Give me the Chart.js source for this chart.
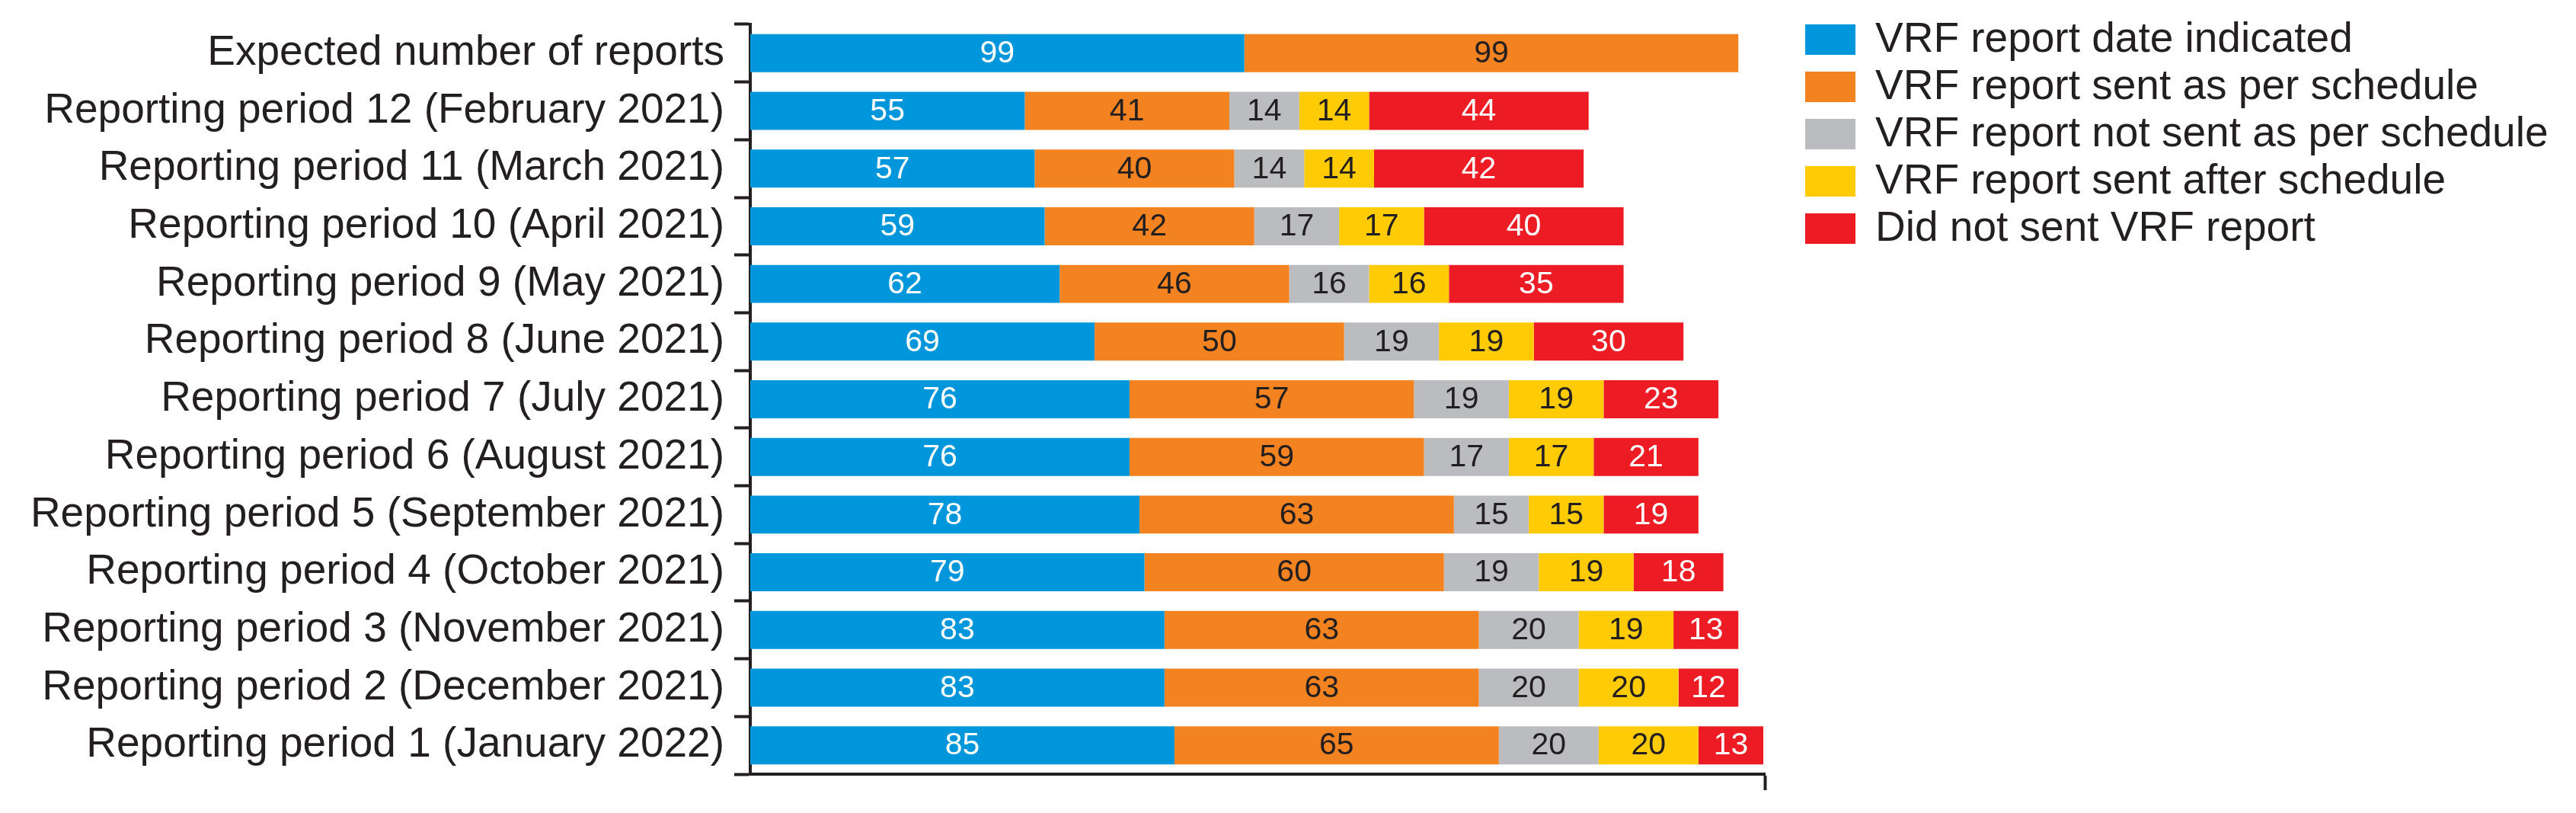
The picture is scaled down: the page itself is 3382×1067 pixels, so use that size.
<!DOCTYPE html>
<html>
<head>
<meta charset="utf-8">
<script src="https://cdn.jsdelivr.net/npm/chart.js@4/dist/chart.umd.min.js"></script>
<style>
html,body{margin:0;padding:0;background:#ffffff;}
#wrap{width:3382px;height:1067px;}
</style>
</head>
<body>
<div id="wrap"><canvas id="c" width="3382" height="1067"></canvas></div>
<script>
// ---- data ----
const categories = [
  "Expected number of reports",
  "Reporting period 12 (February 2021)",
  "Reporting period 11 (March 2021)",
  "Reporting period 10 (April 2021)",
  "Reporting period 9 (May 2021)",
  "Reporting period 8 (June 2021)",
  "Reporting period 7 (July 2021)",
  "Reporting period 6 (August 2021)",
  "Reporting period 5 (September 2021)",
  "Reporting period 4 (October 2021)",
  "Reporting period 3 (November 2021)",
  "Reporting period 2 (December 2021)",
  "Reporting period 1 (January 2022)"
];
const seriesNames = [
  "VRF report date indicated",
  "VRF report sent as per schedule",
  "VRF report not sent as per schedule",
  "VRF report sent after schedule",
  "Did not sent VRF report"
];
const dateIndicated        = [99, 55, 57, 59, 62, 69, 76, 76, 78, 79, 83, 83, 85];
const sentAsPerSchedule    = [99, 41, 40, 42, 46, 50, 57, 59, 63, 60, 63, 63, 65];
const notSentAsPerSchedule = [null, 14, 14, 17, 16, 19, 19, 17, 15, 19, 20, 20, 20];
const sentAfterSchedule    = [null, 14, 14, 17, 16, 19, 19, 17, 15, 19, 19, 20, 20];
const didNotSend           = [null, 44, 42, 40, 35, 30, 23, 21, 19, 18, 13, 12, 13];
const xAxisMax = 203.3;

// ---- styles ----
const seriesColors = ["#0096DB", "#F38321", "#BBBCBF", "#FFCB05", "#ED1C24"];
const labelColors  = ["#FFFFFF", "#231F20", "#231F20", "#231F20", "#FFFFFF"];
const ink = "#231F20";
const FONT = "'Liberation Sans', Arial, Helvetica, sans-serif";

const seriesValues = [dateIndicated, sentAsPerSchedule, notSentAsPerSchedule, sentAfterSchedule, didNotSend];

const datasets = seriesValues.map((vals, i) => ({
  label: seriesNames[i],
  data: vals,
  backgroundColor: seriesColors[i],
  borderWidth: 0,
  barPercentage: 0.66,
  categoryPercentage: 1.0
}));

const segmentLabels = {
  id: 'segmentLabels',
  afterDatasetsDraw(chart) {
    const ctx = chart.ctx;
    ctx.save();
    ctx.font = "41px " + FONT;
    ctx.textAlign = 'center';
    ctx.textBaseline = 'middle';
    chart.data.datasets.forEach((ds, di) => {
      const meta = chart.getDatasetMeta(di);
      meta.data.forEach((el, i) => {
        const v = ds.data[i];
        if (v === null || v === undefined) return;
        ctx.fillStyle = labelColors[di];
        ctx.fillText(String(v), (el.x + el.base) / 2, el.y + 1);
      });
    });
    ctx.restore();
  }
};

const sideLegend = {
  id: 'sideLegend',
  afterDraw(chart) {
    const ctx = chart.ctx;
    ctx.save();
    ctx.font = "55px " + FONT;
    ctx.textAlign = 'left';
    ctx.textBaseline = 'middle';
    chart.data.datasets.forEach((ds, i) => {
      const cy = 52 + i * 62;
      ctx.fillStyle = ds.backgroundColor;
      ctx.fillRect(2370, cy - 20, 66, 40);
      ctx.fillStyle = ink;
      ctx.fillText(ds.label, 2462, cy + 1);
    });
    ctx.restore();
  }
};

new Chart(document.getElementById('c'), {
  type: 'bar',
  data: { labels: categories, datasets },
  plugins: [segmentLabels, sideLegend],
  options: {
    responsive: false,
    animation: false,
    indexAxis: 'y',
    layout: { padding: { top: 32, right: 1065, bottom: 0, left: 0 } },
    plugins: { legend: { display: false }, tooltip: { enabled: false } },
    scales: {
      x: {
        type: 'linear',
        stacked: true,
        min: 0,
        max: xAxisMax,
        afterBuildTicks: s => { s.ticks = [{ value: xAxisMax }]; },
        afterFit: s => { s.height = 51; s.paddingLeft = 0; s.paddingRight = 0; },
        grid: { drawOnChartArea: false, drawTicks: true, tickLength: 21, tickWidth: 4, tickColor: ink },
        border: { display: true, width: 4, color: ink },
        ticks: { display: false }
      },
      y: {
        type: 'category',
        stacked: true,
        afterFit: s => { s.width = 985; s.paddingTop = 0; s.paddingBottom = 0; },
        grid: { offset: true, drawOnChartArea: false, drawTicks: true, tickLength: 21, tickWidth: 4, tickColor: ink },
        border: { display: true, width: 4, color: ink },
        ticks: { autoSkip: false, padding: 13, color: ink, font: { family: FONT, size: 55 } }
      }
    }
  }
});
</script>
</body>
</html>
